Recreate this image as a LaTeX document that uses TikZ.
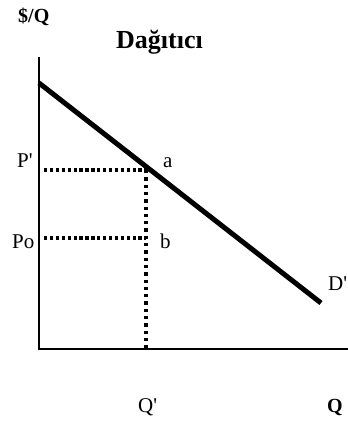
\documentclass[tikz,border=0pt]{standalone}
\usepackage{fontspec}
\setmainfont{Liberation Serif}
\usepackage{tikz}
\usetikzlibrary{positioning}

\begin{document}
\begin{tikzpicture}[x=1pt, y=-1pt,
  axisline/.style={line width=2pt},
  demandline/.style={line width=5pt},
  guideline/.style={line width=3.3pt, dash pattern=on 3.3pt off 2.6pt},
  guidevert/.style={line width=3.3pt, dash pattern=on 3.3pt off 4pt},
  lbl/.style={font=\fontsize{21}{25}\selectfont, inner sep=0pt, anchor=base west},
  boldlbl/.style={lbl, font=\fontsize{20}{24}\selectfont\bfseries}]
  \useasboundingbox (0,0) rectangle (348,423);

  \coordinate (origin) at (39,349);
  \coordinate (ytop) at (39,57);
  \coordinate (xend) at (348,349);
  \coordinate (dstart) at (39,83);
  \coordinate (dend) at (321,303);
  \coordinate (apt) at (146,170);
  \coordinate (bpt) at (146,238);
  \coordinate (qbase) at (146,349);
  \coordinate (ppstart) at (44,170);
  \coordinate (postart) at (44,238);

  % axes and demand curve
  \draw[axisline] (ytop) -- (origin) -- (xend);
  \draw[demandline] (dstart) -- (dend);

  % guide lines
  \draw[guideline] (ppstart) -- (apt);
  \draw[guideline] (postart) -- (bpt);
  \draw[guidevert] (apt) -- (qbase);

  \node[boldlbl] (ylabel) at (18,22) {\$/Q};
  \node[lbl, font=\fontsize{26}{30}\selectfont\bfseries] (title) at (116,48) {Dağıtıcı};
  \node[lbl] (pprime) at (17,167) {P\textquotesingle};
  \node[lbl] (pzero) at (12,248) {Po};
  \node[lbl] (alabel) at (163,167) {a};
  \node[lbl] (blabel) at (160,248) {b};
  \node[lbl] (dlabel) at (328,290) {D\textquotesingle};
  \node[lbl] (qprime) at (138,412) {Q\textquotesingle};
  \node[boldlbl] (xlabel) at (327,412) {Q};
\end{tikzpicture}
\end{document}
